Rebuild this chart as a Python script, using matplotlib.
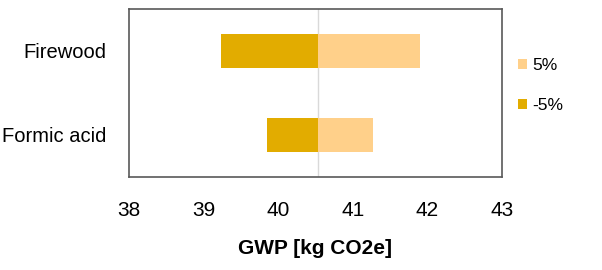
import numpy as np
import matplotlib.pyplot as plt

plt.rcParams['font.family'] = ['Liberation Sans', 'DejaVu Sans']

categories = ['Firewood', 'Formic acid']
baseline = 40.54
minus5 = [39.23, 39.85]   # GWP at -5%
plus5 = [41.90, 41.27]    # GWP at +5%

fig = plt.figure(figsize=(6.02, 2.70), dpi=100)
ax = fig.add_axes([129 / 602, 1 - 177 / 270, (502 - 129) / 602, (177 - 9) / 270])

y = np.arange(len(categories))
ax.barh(y, np.array(plus5) - baseline, left=baseline, height=0.4,
        color='#FFD08A', label='5%')
ax.barh(y, np.array(minus5) - baseline, left=baseline, height=0.4,
        color='#E2AC00', label='-5%')
ax.axvline(baseline, color='#D9D9D9', lw=1, zorder=0)

ax.set_xlim(38, 43)
ax.set_ylim(1.5, -0.5)
ax.set_yticks(y)
ax.set_yticklabels(categories, fontsize=14.5)
ax.set_xticks(range(38, 44))
ax.tick_params(axis='x', labelsize=15, length=0, pad=17)
ax.tick_params(axis='y', length=0, pad=16)
for s in ax.spines.values():
    s.set_color('#595959')
    s.set_linewidth(1.2)
ax.set_xlabel('GWP [kg CO2e]', fontsize=15, fontweight='bold', labelpad=14)

ax.legend(loc='upper left', bbox_to_anchor=(1.0, 0.80), frameon=False,
          fontsize=12.5, handlelength=0.55, handleheight=0.55, handletextpad=0.3,
          labelspacing=1.45)

fig.savefig('out.png', dpi=100)
